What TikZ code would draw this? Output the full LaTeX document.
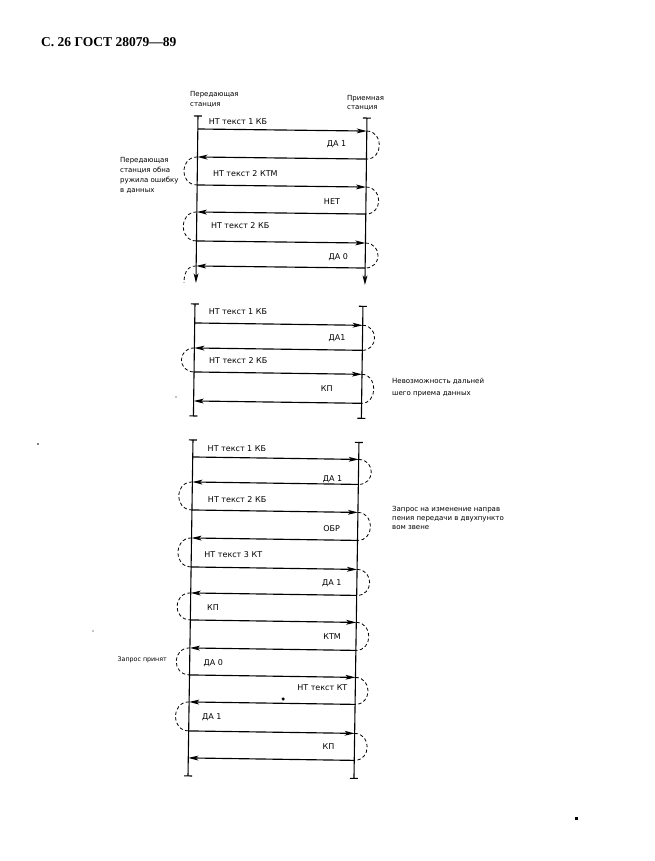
\documentclass[tikz,border=0pt]{standalone}
\usepackage{fontspec}
\setmainfont{DejaVu Sans}
\newfontfamily\hdrfont{Liberation Serif}
\usetikzlibrary{arrows.meta}
\tikzset{
  life/.style={line width=1.1pt},
  lifeend/.style={line width=1.1pt,-{Stealth[length=9.5pt,width=4.8pt,inset=2.5pt]}},
  msg/.style={line width=1.15pt,-{Stealth[length=10pt,width=4.8pt,inset=2.5pt]}},
  turn/.style={line width=0.8pt,dash pattern=on 3.4pt off 2.4pt},
  tickbar/.style={line width=1.1pt},
  lbl/.style={font=\fontsize{8}{9}\selectfont,inner sep=0pt},
  note/.style={font=\fontsize{7}{9.8}\selectfont,align=left,inner sep=0pt,anchor=north west},
  speck/.style={fill=black},
}
\begin{document}
\begin{tikzpicture}[x=1pt,y=-1pt]
\useasboundingbox (0,0) rectangle (655,861);

% header
\node[font=\hdrfont\bfseries\fontsize{13.5}{16}\selectfont,anchor=west,inner sep=0pt] (hdr) at (41,42) {С. 26 ГОСТ 28079—89};

% ---------------- diagram 1 ----------------
\node[note,font=\fontsize{7}{10}\selectfont] (st1) at (190,91) {Передающая\\станция};
\node[note,font=\fontsize{7}{9.5}\selectfont] (st2) at (347,95) {Приемная\\станция};
\node[note] (n1) at (120,157.5) {Передающая\\станция обна\\ружила ошибку\\в данных};

\begin{scope}[rotate around={-0.7:(198,116)}]
  \coordinate (aLt) at (198,116); \coordinate (aLb) at (198,283);
  \coordinate (aRt) at (367,116); \coordinate (aRb) at (367,283);
  \draw[lifeend] (aLt) -- (aLb);
  \draw[lifeend] (aRt) -- (aRb);
  \draw[tickbar] ([xshift=-4pt]aLt) -- ([xshift=4pt]aLt);
  \draw[tickbar] ([xshift=-4pt]aRt) -- ([xshift=4pt]aRt);
  \foreach \i/\y in {1/129,2/157,3/185,4/212,5/241,6/266}{
    \coordinate (aL\i) at (198,\y); \coordinate (aR\i) at (367,\y);}
  \draw[msg] (aL1) -- (aR1);
  \draw[msg] (aR2) -- (aL2);
  \draw[msg] (aL3) -- (aR3);
  \draw[msg] (aR4) -- (aL4);
  \draw[msg] (aL5) -- (aR5);
  \draw[msg] (aR6) -- (aL6);
  \draw[turn] (aR1) .. controls +(17,0) and +(17,0) .. (aR2);
  \draw[turn] (aR3) .. controls +(17,0) and +(17,0) .. (aR4);
  \draw[turn] (aR5) .. controls +(17,0) and +(17,0) .. (aR6);
  \draw[turn] (aL2) .. controls +(-18,0) and +(-18,0) .. (aL3);
  \draw[turn] (aL4) .. controls +(-18,0) and +(-18,0) .. (aL5);
  \coordinate (aLx) at (186,283);
  \draw[turn] (aL6) .. controls +(-10,0) and +(0,-8) .. (aLx);
  \node[lbl] (a1) at (238,121.5) {НТ текст 1 КБ};
  \node[lbl] (a2) at (337,143) {ДА 1};
  \node[lbl] (a3) at (246,173.5) {НТ текст 2 КТМ};
  \node[lbl] (a4) at (333,200) {НЕТ};
  \node[lbl] (a5) at (241.5,225.5) {НТ текст 2 КБ};
  \node[lbl] (a6) at (340,255) {ДА 0};
\end{scope}

% ---------------- diagram 2 ----------------
\begin{scope}[rotate around={-0.8:(195,304)}]
  \coordinate (bLt) at (195,304); \coordinate (bLb) at (195,416);
  \coordinate (bRt) at (363,304); \coordinate (bRb) at (363,416);
  \draw[life] (bLt) -- (bLb);
  \draw[life] (bRt) -- (bRb);
  \foreach \c in {bLt,bLb,bRt,bRb}{
    \draw[tickbar] ([xshift=-4pt]\c) -- ([xshift=4pt]\c);}
  \foreach \i/\y in {1/323,2/348,3/372,4/401}{
    \coordinate (bL\i) at (195,\y); \coordinate (bR\i) at (363,\y);}
  \draw[msg] (bL1) -- (bR1);
  \draw[msg] (bR2) -- (bL2);
  \draw[msg] (bL3) -- (bR3);
  \draw[msg] (bR4) -- (bL4);
  \draw[turn] (bR1) .. controls +(16,0) and +(16,0) .. (bR2);
  \draw[turn] (bR3) .. controls +(16,0) and +(16,0) .. (bR4);
  \draw[turn] (bL2) .. controls +(-17,0) and +(-17,0) .. (bL3);
  \node[lbl] (b1) at (238,311) {НТ текст 1 КБ};
  \node[lbl] (b2) at (337.5,336) {ДА1};
  \node[lbl] (b3) at (239,360) {НТ текст 2 КБ};
  \node[lbl] (b4) at (328,387) {КП};
\end{scope}
\node[note,font=\fontsize{7}{12}\selectfont] (n2) at (392,377.5) {Невозможность дальней\\шего приема данных};

% ---------------- diagram 3 ----------------
\begin{scope}[rotate around={-0.85:(193,440)}]
  \coordinate (cLt) at (193,440); \coordinate (cLb) at (193,776);
  \coordinate (cRt) at (359,440); \coordinate (cRb) at (359,776);
  \draw[life] (cLt) -- (cLb);
  \draw[life] (cRt) -- (cRb);
  \foreach \c in {cLt,cLb,cRt,cRb}{
    \draw[tickbar] ([xshift=-4pt]\c) -- ([xshift=4pt]\c);}
  \foreach \i/\y in {1/457,2/482,3/510,4/538,5/567,6/593,7/620,8/648,9/675,10/702,11/731,12/758}{
    \coordinate (cL\i) at (193,\y); \coordinate (cR\i) at (359,\y);}
  \foreach \i in {1,3,5,7,9,11}{\draw[msg] (cL\i) -- (cR\i);}
  \foreach \i in {2,4,6,8,10,12}{\draw[msg] (cR\i) -- (cL\i);}
  \foreach \i/\j in {1/2,3/4,5/6,7/8,9/10,11/12}{
    \draw[turn] (cR\i) .. controls +(17,0) and +(17,0) .. (cR\j);}
  \foreach \i/\j in {2/3,4/5,6/7,8/9,10/11}{
    \draw[turn] (cL\i) .. controls +(-18,0) and +(-18,0) .. (cL\j);}
  \node[lbl] (c1) at (237,448) {НТ текст 1 КБ};
  \node[lbl] (c2) at (333,477) {ДА 1};
  \node[lbl] (c3) at (238,499) {НТ текст 2 КБ};
  \node[lbl] (c4) at (333,527) {ОБР};
  \node[lbl] (c5) at (235,554) {НТ текст 3 КТ};
  \node[lbl] (c6) at (334,581) {ДА 1};
  \node[lbl] (c7) at (215.5,607) {КП};
  \node[lbl] (c8) at (335,634) {КТМ};
  \node[lbl] (c9) at (216.5,663) {ДА 0};
  \node[lbl] (c10) at (326,686) {НТ текст КТ};
  \node[lbl] (c11) at (216,717) {ДА 1};
  \node[lbl] (c12) at (333,745) {КП};
  \fill (287,697.6) circle (1.7pt);
\end{scope}
\node[note,font=\fontsize{7}{9}\selectfont] (n3) at (392,506.5) {Запрос на изменение направ\\пения передачи в двухпункто\\вом звене};
\node[note,font=\fontsize{6.3}{8}\selectfont,anchor=east] (n4) at (167,660) {Запрос принят};

% scan specks
\fill[speck] (38,444) circle (0.9pt);
\fill[speck] (93,631) circle (0.7pt);
\fill[speck] (176,397) circle (0.7pt);
\fill[speck] (575,816.5) rectangle (578,819.5);
\end{tikzpicture}
\end{document}
